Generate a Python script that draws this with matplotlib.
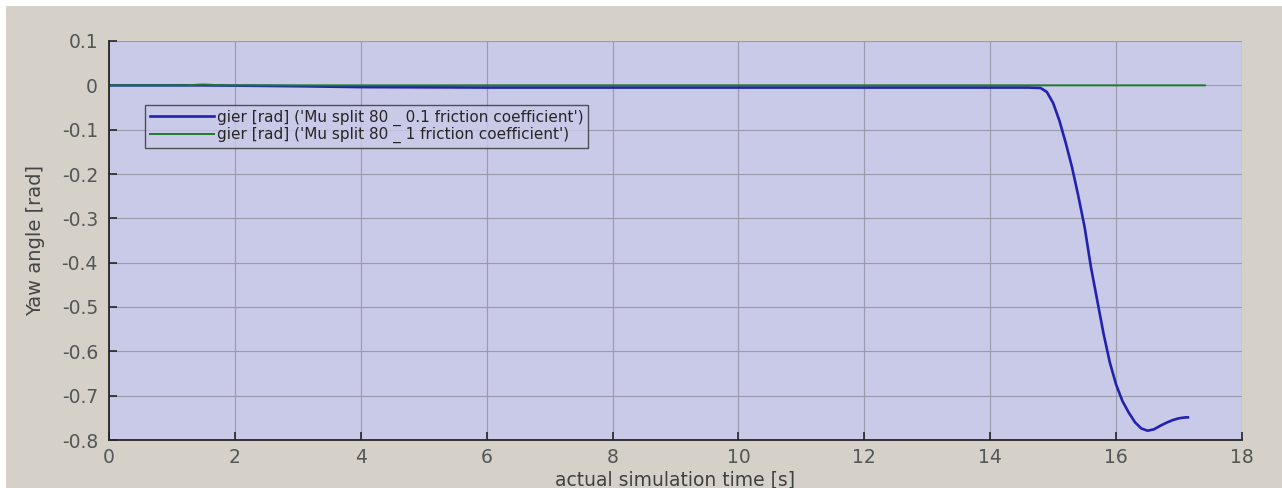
import matplotlib
matplotlib.use("Agg")
import matplotlib.pyplot as plt
from matplotlib.patches import Rectangle

# Gierwinkel, Mu-split 80 bei zwei Reibwerten
t_mu01 = [0, 1.5, 3, 4, 6, 8, 10, 12, 14, 14.6, 14.8, 14.9, 15.0, 15.1, 15.2,
          15.3, 15.4, 15.5, 15.6, 15.7, 15.8, 15.9, 16.0, 16.1, 16.2, 16.3,
          16.4, 16.5, 16.6, 16.7, 16.8, 16.9, 17.0, 17.1, 17.14]
gier_mu01 = [0, 0, -0.002, -0.004, -0.005, -0.005, -0.005, -0.005, -0.005,
             -0.005, -0.006, -0.015, -0.04, -0.08, -0.13, -0.185, -0.25, -0.32,
             -0.41, -0.485, -0.56, -0.625, -0.675, -0.712, -0.738, -0.76,
             -0.774, -0.779, -0.776, -0.768, -0.761, -0.755, -0.751, -0.749,
             -0.749]

t_mu1 = [0, 1.2, 1.5, 1.8, 3, 6, 9, 12, 15, 17.41]
gier_mu1 = [0, 0, 0.002, 0, 0, 0, 0, 0, 0, 0]

labels = ["gier [rad] ('Mu split 80 _ 0.1 friction coefficient')",
          "gier [rad] ('Mu split 80 _ 1 friction coefficient')"]

xticks = [0, 2, 4, 6, 8, 10, 12, 14, 16, 18]
yticks = [-0.8, -0.7, -0.6, -0.5, -0.4, -0.3, -0.2, -0.1, 0, 0.1]

plt.rcParams["font.family"] = ["DejaVu Sans"]

fig = plt.figure(figsize=(12.82, 4.88), dpi=100, facecolor="#d5d1c9")
# weisser Rand oben und links
fig.patches.append(Rectangle((0, 0), 6 / 1282, 1, transform=fig.transFigure,
                             facecolor="white", edgecolor="none", zorder=-1))
fig.patches.append(Rectangle((0, 1 - 6 / 488), 1, 6 / 488, transform=fig.transFigure,
                             facecolor="white", edgecolor="none", zorder=-1))

ax = fig.add_axes([109 / 1282, 48 / 488, 1133 / 1282, 399 / 488])
ax.set_facecolor("#c9c9e8")

ax.plot(t_mu01, gier_mu01, color="#2222b0", lw=1.9, label=labels[0])
ax.plot(t_mu1, gier_mu1, color="#1e7a2a", lw=1.4, label=labels[1])

ax.set_xlim(0, 18)
ax.set_ylim(-0.8, 0.1)
ax.set_xticks(xticks)
ax.set_yticks(yticks)
ax.set_xticklabels([f"{v:g}" for v in xticks])
ax.set_yticklabels([f"{v:g}" for v in yticks])

ax.grid(True, color="#9a9aaa", lw=0.8)
ax.set_axisbelow(True)
for side in ["top", "right"]:
    ax.spines[side].set_visible(False)
for side in ["left", "bottom"]:
    ax.spines[side].set_color("#262626")
    ax.spines[side].set_linewidth(1.3)
ax.tick_params(direction="in", length=6, width=1.2, color="#262626",
               labelsize=13.5, labelcolor="#555555", pad=8)
ax.tick_params(axis="x", pad=6)

ax.set_xlabel("actual simulation time [s]", fontsize=13.5, color="#404040",
              labelpad=2)
ax.set_ylabel("Yaw angle [rad]", fontsize=14, color="#454545", labelpad=12)

leg = ax.legend(loc="upper left", bbox_to_anchor=(0.032, 0.84), borderaxespad=0,
                fontsize=11, handlelength=4.2, frameon=True, fancybox=False,
                borderpad=0.3, labelspacing=0.1, handletextpad=0.2)
leg.get_frame().set_facecolor("#c9c9e8")
leg.get_frame().set_edgecolor("#303030")
leg.get_frame().set_linewidth(1.0)
for txt in leg.get_texts():
    txt.set_color("#262626")

fig.savefig("out.png", dpi=100, facecolor=fig.get_facecolor())
